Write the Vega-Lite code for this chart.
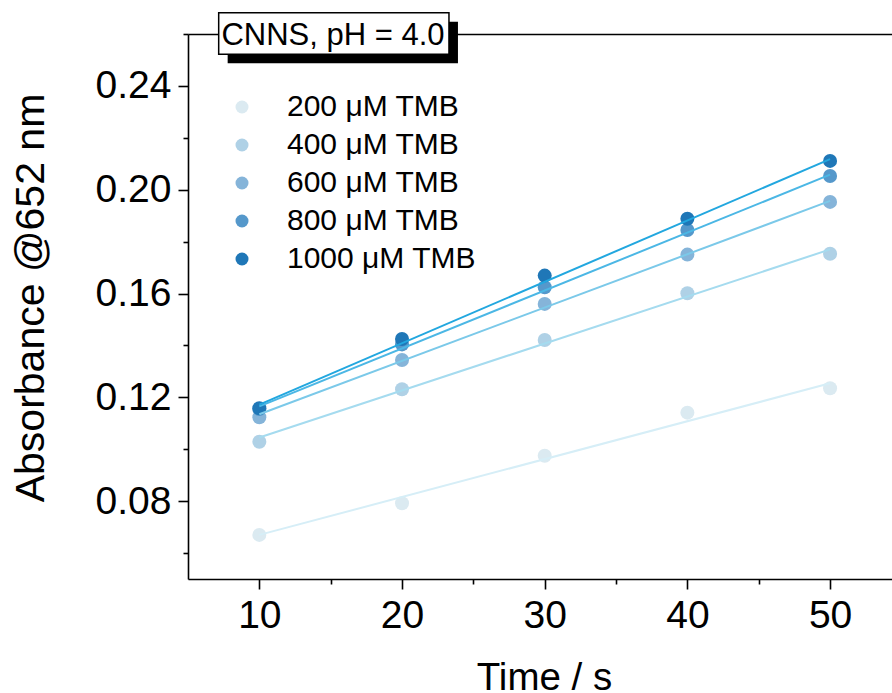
{
  "$schema": "https://vega.github.io/schema/vega-lite/v6.json",
  "width": 704,
  "height": 545,
  "autosize": {"type": "none"},
  "padding": {"left": 188, "top": 34, "right": 0, "bottom": 114},
  "background": "white",
  "config": {
    "view": {"stroke": null},
    "font": "Liberation Sans",
    "axis": {
      "labelFont": "Liberation Sans",
      "titleFont": "Liberation Sans",
      "labelColor": "black",
      "titleColor": "black",
      "domainColor": "black",
      "tickColor": "black",
      "domainWidth": 1.6,
      "tickWidth": 1.6,
      "grid": false,
      "titleFontWeight": "normal",
      "labelFlush": false,
      "labelOverlap": false,
      "labelBound": false
    },
    "legend": {"labelFont": "Liberation Sans"}
  },
  "datasets": {
    "points": [
      {"series": "200 μM TMB", "time": 10, "absorbance": 0.0670},
      {"series": "200 μM TMB", "time": 20, "absorbance": 0.0792},
      {"series": "200 μM TMB", "time": 30, "absorbance": 0.0975},
      {"series": "200 μM TMB", "time": 40, "absorbance": 0.1141},
      {"series": "200 μM TMB", "time": 50, "absorbance": 0.1235},
      {"series": "400 μM TMB", "time": 10, "absorbance": 0.1029},
      {"series": "400 μM TMB", "time": 20, "absorbance": 0.1231},
      {"series": "400 μM TMB", "time": 30, "absorbance": 0.1421},
      {"series": "400 μM TMB", "time": 40, "absorbance": 0.1601},
      {"series": "400 μM TMB", "time": 50, "absorbance": 0.1753},
      {"series": "600 μM TMB", "time": 10, "absorbance": 0.1123},
      {"series": "600 μM TMB", "time": 20, "absorbance": 0.1344},
      {"series": "600 μM TMB", "time": 30, "absorbance": 0.1560},
      {"series": "600 μM TMB", "time": 40, "absorbance": 0.1750},
      {"series": "600 μM TMB", "time": 50, "absorbance": 0.1953},
      {"series": "800 μM TMB", "time": 10, "absorbance": 0.1155},
      {"series": "800 μM TMB", "time": 20, "absorbance": 0.1404},
      {"series": "800 μM TMB", "time": 30, "absorbance": 0.1624},
      {"series": "800 μM TMB", "time": 40, "absorbance": 0.1845},
      {"series": "800 μM TMB", "time": 50, "absorbance": 0.2053},
      {"series": "1000 μM TMB", "time": 10, "absorbance": 0.1158},
      {"series": "1000 μM TMB", "time": 20, "absorbance": 0.1425},
      {"series": "1000 μM TMB", "time": 30, "absorbance": 0.1669},
      {"series": "1000 μM TMB", "time": 40, "absorbance": 0.1888},
      {"series": "1000 μM TMB", "time": 50, "absorbance": 0.2111}
    ],
    "fits": [
      {"series": "200 μM TMB", "time": 10, "absorbance": 0.0670},
      {"series": "200 μM TMB", "time": 50, "absorbance": 0.1254},
      {"series": "400 μM TMB", "time": 10, "absorbance": 0.1045},
      {"series": "400 μM TMB", "time": 50, "absorbance": 0.1770},
      {"series": "600 μM TMB", "time": 10, "absorbance": 0.1135},
      {"series": "600 μM TMB", "time": 50, "absorbance": 0.1957},
      {"series": "800 μM TMB", "time": 10, "absorbance": 0.1165},
      {"series": "800 μM TMB", "time": 50, "absorbance": 0.2058},
      {"series": "1000 μM TMB", "time": 10, "absorbance": 0.1172},
      {"series": "1000 μM TMB", "time": 50, "absorbance": 0.2118}
    ]
  },
  "layer": [
    {
      "data": {"name": "points"},
      "mark": {"type": "circle", "size": 196, "opacity": 1},
      "encoding": {
        "x": {
          "field": "time", "type": "quantitative",
          "scale": {"domain": [5, 54.34], "nice": false, "zero": false},
          "axis": {
            "orient": "bottom", "values": [10, 20, 30, 40, 50], "tickSize": 10,
            "labelFontSize": 39, "labelPadding": 7,
            "title": "Time / s", "titleFontSize": 38.5,
            "titleX": 356, "titleY": 110, "titleBaseline": "alphabetic", "titleAlign": "center"
          }
        },
        "y": {
          "field": "absorbance", "type": "quantitative",
          "scale": {"domain": [0.05, 0.26], "nice": false, "zero": false},
          "axis": {
            "orient": "left", "values": [0.08, 0.12, 0.16, 0.2, 0.24], "format": ".2f",
            "tickSize": 10, "labelFontSize": 39, "labelPadding": 7,
            "title": "Absorbance @652 nm", "titleFontSize": 41,
            "titleX": -145, "titleY": 263.5, "titleAngle": -90,
            "titleBaseline": "alphabetic", "titleAlign": "center"
          }
        },
        "color": {
          "field": "series", "type": "nominal",
          "scale": {
            "domain": ["200 μM TMB", "400 μM TMB", "600 μM TMB", "800 μM TMB", "1000 μM TMB"],
            "range": ["#dbeaf1", "#afd1e6", "#85b4d9", "#5598cb", "#1f77b7"]
          },
          "legend": {
            "orient": "none", "legendX": 39, "legendY": 58, "title": null,
            "labelFontSize": 30, "labelColor": "black", "labelLimit": 0, "symbolSize": 169,
            "symbolType": "circle", "symbolStrokeWidth": 0, "symbolOpacity": 1,
            "labelOffset": 30, "rowPadding": 8, "padding": 0
          }
        }
      }
    },
    {
      "data": {"name": "points"},
      "mark": {"type": "point", "opacity": 0},
      "encoding": {
        "x": {"field": "time", "type": "quantitative", "scale": {"domain": [5, 54.34], "nice": false, "zero": false},
          "axis": {"orient": "bottom", "values": [15, 25, 35, 45], "tickSize": 5, "labels": false, "domain": false, "title": null}},
        "y": {"field": "absorbance", "type": "quantitative", "scale": {"domain": [0.05, 0.26], "nice": false, "zero": false},
          "axis": {"orient": "left", "values": [0.06, 0.1, 0.14, 0.18, 0.22, 0.26], "tickSize": 5, "labels": false, "domain": false, "title": null}}
      }
    },
    {
      "data": {"name": "points"},
      "mark": {"type": "point", "opacity": 0},
      "encoding": {
        "x": {"field": "time", "type": "quantitative", "scale": {"domain": [5, 54.34], "nice": false, "zero": false},
          "axis": {"orient": "top", "ticks": false, "labels": false, "domain": true, "title": null}},
        "y": {"field": "absorbance", "type": "quantitative", "scale": {"domain": [0.05, 0.26], "nice": false, "zero": false}, "axis": null}
      }
    },
    {
      "data": {"name": "fits"},
      "mark": {"type": "line", "strokeWidth": 2},
      "encoding": {
        "x": {"field": "time", "type": "quantitative", "scale": {"domain": [5, 54.34], "nice": false, "zero": false}, "axis": null},
        "y": {"field": "absorbance", "type": "quantitative", "scale": {"domain": [0.05, 0.26], "nice": false, "zero": false}, "axis": null},
        "color": {
          "field": "series", "type": "nominal",
          "scale": {
            "domain": ["200 μM TMB", "400 μM TMB", "600 μM TMB", "800 μM TMB", "1000 μM TMB"],
            "range": ["#d6eef7", "#a5dbef", "#7bc9e9", "#4bb7e5", "#22a7df"]
          },
          "legend": null
        }
      }
    },
    {
      "data": {"values": [{}]},
      "mark": {"type": "rect", "fill": "black"},
      "encoding": {
        "x": {"datum": 7.78, "type": "quantitative", "axis": null},
        "x2": {"datum": 23.92},
        "y": {"datum": 0.2647, "type": "quantitative", "axis": null},
        "y2": {"datum": 0.2487}
      }
    },
    {
      "data": {"values": [{}]},
      "mark": {"type": "rect", "fill": "white", "stroke": "black", "strokeWidth": 1.5},
      "encoding": {
        "x": {"datum": 7.151, "type": "quantitative", "axis": null},
        "x2": {"datum": 23.29},
        "y": {"datum": 0.2682, "type": "quantitative", "axis": null},
        "y2": {"datum": 0.2522}
      }
    },
    {
      "data": {"values": [{}]},
      "mark": {"type": "text", "text": "CNNS, pH = 4.0", "fontSize": 31, "font": "Liberation Sans", "align": "center", "baseline": "alphabetic", "color": "black"},
      "encoding": {
        "x": {"datum": 15.163, "type": "quantitative", "axis": null},
        "y": {"datum": 0.25576, "type": "quantitative", "axis": null}
      }
    }
  ],
  "resolve": {"axis": {"x": "independent", "y": "independent"}, "scale": {"color": "independent"}}
}
